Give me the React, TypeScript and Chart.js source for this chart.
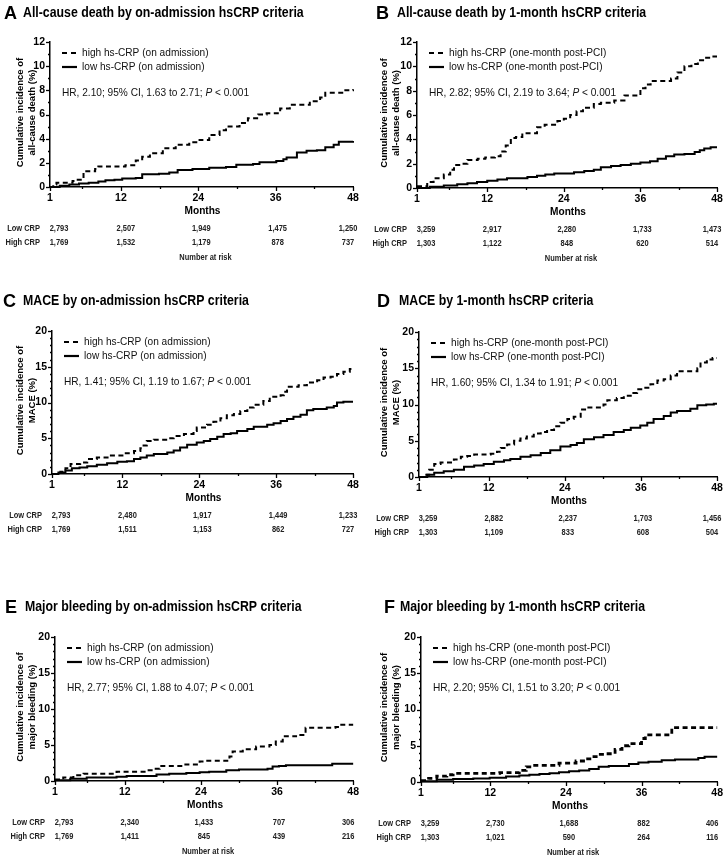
import React, { useEffect, useRef } from 'react';
import { Chart, registerables } from 'chart.js';
Chart.register(...registerables);

// ---- axis ticks ----
const MONTH_TICKS = [1, 12, 24, 36, 48];
const MINOR_MONTHS = [6, 18, 30, 42];

// ---- curves: [month, cumulative incidence %] ----
const A_HIGH = [[1,0],[1.5,0.2],[2,0.35],[4.5,0.5],[5.3,0.6],[6.2,1.3],[8,1.5],[8.5,1.7],[12.7,1.8],[14.3,2.2],[15.3,2.5],[16.5,2.8],[18.5,3.2],[20.5,3.5],[22.6,3.7],[24.2,3.9],[25.7,4.3],[27.3,4.7],[28.3,5.0],[30.4,5.3],[31.7,5.7],[33.3,6.0],[34.6,6.1],[36.7,6.5],[38.2,6.8],[41.3,7.1],[42.9,7.4],[43.7,7.8],[46.5,8.0],[48,8.1]];
const A_LOW = [[1,0],[2.5,0.1],[4,0.2],[5.5,0.3],[7,0.35],[8.5,0.45],[9.6,0.55],[11,0.6],[12.2,0.7],[14.3,0.75],[15.3,1.05],[17.9,1.1],[19.5,1.2],[20.8,1.4],[23.1,1.5],[25.7,1.6],[28.3,1.65],[29.9,1.85],[32.5,1.9],[33.5,2.05],[36.1,2.15],[37.2,2.3],[37.7,2.45],[39.3,2.85],[40.8,3.0],[42.4,3.05],[43.7,3.3],[45,3.5],[45.8,3.75],[48,3.8]];
const B_HIGH = [[1,0.15],[2.6,0.5],[3.6,0.8],[5.2,1.1],[6.2,1.5],[6.8,1.9],[8.3,2.0],[8.9,2.3],[10.5,2.4],[11.7,2.5],[13.2,2.6],[14.1,3.0],[14.9,3.5],[15.7,4.1],[16.5,4.2],[17.5,4.5],[19.8,5.0],[21,5.2],[23,5.5],[24,5.7],[25,6.0],[26,6.3],[27,6.6],[28.7,6.9],[29.8,7.0],[31.9,7.2],[33.5,7.6],[36,8.2],[36.8,8.5],[37.6,8.8],[40.8,9.0],[41.8,9.5],[42.9,10.0],[44,10.2],[45,10.5],[46,10.7],[47,10.8],[48,10.8]];
const B_LOW = [[1,0],[3,0.1],[5.2,0.2],[7.3,0.3],[8.9,0.4],[10.4,0.5],[12,0.6],[13.6,0.7],[15.1,0.8],[18.3,0.9],[19.8,1.0],[21.1,1.1],[22.5,1.2],[25.6,1.3],[27.2,1.4],[28.7,1.5],[29.8,1.7],[31.4,1.8],[32.9,1.9],[34.5,2.0],[36,2.1],[37.5,2.2],[38.7,2.4],[40,2.6],[41.3,2.75],[42.9,2.8],[44.5,2.95],[45.3,3.1],[46,3.25],[47,3.35],[48,3.35]];
const C_HIGH = [[1,0],[2.3,0.3],[3.1,0.8],[3.9,1.4],[5.4,1.6],[6.5,2.1],[8,2.3],[10,2.6],[12.2,2.9],[13.8,3.2],[14.8,3.6],[15.3,4.0],[15.8,4.6],[16.9,4.8],[19,5.0],[20,5.3],[21.6,5.6],[23.1,6.0],[23.6,6.5],[25.2,6.9],[26.2,7.3],[27.3,7.8],[28.3,8.2],[29.4,8.4],[30.4,8.8],[31.5,9.3],[32.5,9.7],[34,10.2],[35,10.8],[36.7,11.0],[37.2,11.5],[37.7,12.2],[39.5,12.4],[40.8,12.8],[42.4,13.1],[43.4,13.5],[44.5,13.6],[45.5,14.0],[46.5,14.3],[47.5,14.7],[48,14.7]];
const C_LOW = [[1,0],[2,0.2],[3.1,0.5],[4.1,0.8],[5.3,0.9],[6.5,1.1],[8,1.3],[9.6,1.5],[11.2,1.7],[12.7,1.8],[13.8,2.1],[14.8,2.3],[15.8,2.6],[16.9,2.8],[19,3.0],[20,3.3],[21,3.7],[22.1,4.1],[23.6,4.4],[24.7,4.6],[25.7,4.9],[26.8,5.2],[27.8,5.6],[28.9,5.7],[29.9,6.0],[31.5,6.3],[32.5,6.6],[34.6,6.9],[35.6,7.1],[36.7,7.4],[37.7,7.7],[38.7,8.0],[39.8,8.3],[40.8,8.9],[41.8,9.1],[43.9,9.3],[45,9.5],[45.5,10.0],[46.5,10.1],[48,10.1]];
const D_HIGH = [[1,0],[1.8,0.3],[2.6,1.0],[3.4,1.8],[4.4,2.0],[6.5,2.4],[7.6,2.8],[8.6,2.9],[9.7,3.1],[12.3,3.2],[13.3,3.5],[13.9,4.0],[14.9,4.5],[16,5.0],[17,5.3],[18,5.6],[19.1,6.0],[20.2,6.2],[21.2,6.5],[22.3,7.0],[23.3,7.5],[24.4,8.0],[25.4,8.3],[26.5,9.3],[27.5,9.6],[30.1,10.0],[30.7,10.6],[32.2,10.9],[33.3,11.2],[34.4,11.6],[35.4,12.1],[36.5,12.3],[37.5,12.8],[38.6,13.3],[39.6,13.5],[40.7,14.0],[41.7,14.6],[44.9,15.0],[45.4,15.8],[46.4,16.2],[47.3,16.4],[48,16.4]];
const D_LOW = [[1,0],[2.3,0.3],[3.4,0.6],[4.9,0.8],[6.5,1.0],[8.1,1.4],[9.7,1.6],[11.2,1.8],[12.8,2.1],[14.4,2.3],[15.4,2.5],[17,2.8],[18.6,3.0],[20.2,3.3],[21.7,3.7],[23.3,4.2],[24.9,4.4],[25.9,4.7],[27,5.2],[28.6,5.5],[30.1,5.8],[31.7,6.2],[33.3,6.5],[34.4,6.8],[35.9,7.1],[37,7.5],[38,8.0],[39.6,8.4],[40.7,8.9],[41.7,9.1],[43.8,9.4],[44.9,9.9],[46.3,10.0],[47.5,10.1],[48,10.1]];
const E_HIGH = [[1,0.2],[2.3,0.5],[3.9,0.8],[5.5,1.0],[10.7,1.3],[15.4,1.5],[16.4,1.7],[17.5,2.1],[21.2,2.3],[23.8,2.7],[24.8,2.8],[28.5,3.4],[29,4.1],[30.6,4.4],[32.7,4.8],[34.8,5.0],[35.8,5.5],[36.9,6.2],[39,6.4],[40.5,7.4],[45.2,7.5],[45.8,7.8],[48,7.8]];
const E_LOW = [[1,0.1],[3.4,0.3],[6,0.5],[10.7,0.6],[12.3,0.7],[17,0.9],[19,1.0],[21.7,1.1],[23.8,1.2],[25.3,1.3],[28,1.5],[30,1.6],[34.5,1.7],[35.3,2.0],[36.3,2.1],[37.4,2.2],[44.7,2.4],[48,2.4]];
const F_HIGH = [[1,0.2],[2.2,0.5],[3.5,0.8],[5.1,1.0],[6.1,1.2],[13.5,1.3],[16.6,1.6],[17.7,2.1],[18.7,2.3],[22.9,2.6],[25.6,2.9],[27.1,3.2],[28.2,3.5],[29.2,3.8],[30.2,3.9],[31.8,4.5],[32.9,5.0],[34,5.3],[36,6.0],[36.6,6.5],[40.8,7.5],[48,7.5]];
const F_LOW = [[1,0.1],[3.5,0.3],[6.1,0.4],[9.3,0.5],[11.9,0.6],[14.5,0.75],[16.6,0.9],[18.2,1.0],[19.8,1.1],[21.4,1.2],[22.9,1.35],[24.5,1.5],[26.1,1.6],[27.7,1.8],[29.2,2.1],[30.8,2.2],[34,2.5],[35.5,2.7],[37.1,2.8],[39.2,3.0],[41.3,3.1],[45,3.3],[46,3.5],[48,3.5]];

// ---- number at risk ----
const A_RISK_LOW = [2793, 2507, 1949, 1475, 1250];
const A_RISK_HIGH = [1769, 1532, 1179, 878, 737];
const B_RISK_LOW = [3259, 2917, 2280, 1733, 1473];
const B_RISK_HIGH = [1303, 1122, 848, 620, 514];
const C_RISK_LOW = [2793, 2480, 1917, 1449, 1233];
const C_RISK_HIGH = [1769, 1511, 1153, 862, 727];
const D_RISK_LOW = [3259, 2882, 2237, 1703, 1456];
const D_RISK_HIGH = [1303, 1109, 833, 608, 504];
const E_RISK_LOW = [2793, 2340, 1433, 707, 306];
const E_RISK_HIGH = [1769, 1411, 845, 439, 216];
const F_RISK_LOW = [3259, 2730, 1688, 882, 406];
const F_RISK_HIGH = [1303, 1021, 590, 264, 116];

// ---- text ----
const TITLES = [
  'All-cause death by on-admission hsCRP criteria',
  'All-cause death by 1-month hsCRP criteria',
  'MACE by on-admission hsCRP criteria',
  'MACE by 1-month hsCRP criteria',
  'Major bleeding by on-admission hsCRP criteria',
  'Major bleeding by 1-month hsCRP criteria',
];
const HR_TEXT = [
  ['HR, 2.10; 95% CI, 1.63 to 2.71; ', ' < 0.001'],
  ['HR, 2.82; 95% CI, 2.19 to 3.64; ', ' < 0.001'],
  ['HR, 1.41; 95% CI, 1.19 to 1.67; ', ' < 0.001'],
  ['HR, 1.60; 95% CI, 1.34 to 1.91; ', ' < 0.001'],
  ['HR, 2.77; 95% CI, 1.88 to 4.07; ', ' < 0.001'],
  ['HR, 2.20; 95% CI, 1.51 to 3.20; ', ' < 0.001'],
];
const LEG_ADM = ['high hs-CRP (on admission)', 'low hs-CRP (on admission)'];
const LEG_1M = ['high hs-CRP (one-month post-PCI)', 'low hs-CRP (one-month post-PCI)'];

const FONT = 'Arial, "Liberation Sans", Helvetica, sans-serif';
const SX = 0.88;

type Panel = {
  letter: string; title: string; x: number; y: number; w: number; h: number;
  area: { l: number; r: number; t: number; b: number };
  letterX: number; titleX: number; titleY: number;
  yMax: number; yStep: number; yTitle: string[];
  legend: string[]; hr: string[];
  high: number[][]; low: number[][];
  riskLow: number[]; riskHigh: number[]; showNAR: boolean; dashW: number;
};

const PANELS: Panel[] = [
  { letter: 'A', title: TITLES[0], x: 0, y: 0, w: 364, h: 265, area: { l: 50, r: 353, t: 42, b: 187 }, letterX: 4, titleX: 23, titleY: 17,
    yMax: 12, yStep: 2, yTitle: ['Cumulative incidence of', 'all-cause death (%)'], legend: LEG_ADM, hr: HR_TEXT[0],
    high: A_HIGH, low: A_LOW, riskLow: A_RISK_LOW, riskHigh: A_RISK_HIGH, showNAR: true, dashW: 2 },
  { letter: 'B', title: TITLES[1], x: 364, y: 0, w: 364, h: 265, area: { l: 53, r: 353, t: 42, b: 188 }, letterX: 12, titleX: 33, titleY: 17,
    yMax: 12, yStep: 2, yTitle: ['Cumulative incidence of', 'all-cause death (%)'], legend: LEG_1M, hr: HR_TEXT[1],
    high: B_HIGH, low: B_LOW, riskLow: B_RISK_LOW, riskHigh: B_RISK_HIGH, showNAR: true, dashW: 2 },
  { letter: 'C', title: TITLES[2], x: 0, y: 285, w: 364, h: 290, area: { l: 52, r: 353, t: 46, b: 189 }, letterX: 3, titleX: 23, titleY: 20,
    yMax: 20, yStep: 5, yTitle: ['Cumulative incidence of', 'MACE (%)'], legend: LEG_ADM, hr: HR_TEXT[2],
    high: C_HIGH, low: C_LOW, riskLow: C_RISK_LOW, riskHigh: C_RISK_HIGH, showNAR: false, dashW: 2 },
  { letter: 'D', title: TITLES[3], x: 364, y: 285, w: 364, h: 290, area: { l: 55, r: 353, t: 47, b: 192 }, letterX: 13, titleX: 35, titleY: 20,
    yMax: 20, yStep: 5, yTitle: ['Cumulative incidence of', 'MACE (%)'], legend: LEG_1M, hr: HR_TEXT[3],
    high: D_HIGH, low: D_LOW, riskLow: D_RISK_LOW, riskHigh: D_RISK_HIGH, showNAR: false, dashW: 2 },
  { letter: 'E', title: TITLES[4], x: 0, y: 575, w: 364, h: 280, area: { l: 55, r: 354, t: 62, b: 206 }, letterX: 5, titleX: 25, titleY: 36,
    yMax: 20, yStep: 5, yTitle: ['Cumulative incidence of', 'major bleeding (%)'], legend: LEG_ADM, hr: HR_TEXT[4],
    high: E_HIGH, low: E_LOW, riskLow: E_RISK_LOW, riskHigh: E_RISK_HIGH, showNAR: true, dashW: 2 },
  { letter: 'F', title: TITLES[5], x: 364, y: 575, w: 364, h: 280, area: { l: 57, r: 356, t: 62, b: 207 }, letterX: 20, titleX: 36, titleY: 36,
    yMax: 20, yStep: 5, yTitle: ['Cumulative incidence of', 'major bleeding (%)'], legend: LEG_1M, hr: HR_TEXT[5],
    high: F_HIGH, low: F_LOW, riskLow: F_RISK_LOW, riskHigh: F_RISK_HIGH, showNAR: true, dashW: 2.8 },
];

const RISK_OFFS = [9, 5, 3, 2, -5];

function txt(ctx: CanvasRenderingContext2D, s: string, x: number, y: number, font: string,
  align: CanvasTextAlign = 'left', base: CanvasTextBaseline = 'alphabetic', color = '#000', sx = SX) {
  ctx.save();
  ctx.font = font; ctx.fillStyle = color; ctx.textAlign = align; ctx.textBaseline = base;
  ctx.translate(x, y); ctx.scale(sx, 1); ctx.fillText(s, 0, 0);
  ctx.restore();
}
function tw(ctx: CanvasRenderingContext2D, s: string, font: string) {
  ctx.save(); ctx.font = font; const w = ctx.measureText(s).width; ctx.restore();
  return w * SX;
}

function decorPlugin(p: Panel) {
  return {
    id: 'kmDecor' + p.letter,
    afterDraw(chart: any) {
      const ctx: CanvasRenderingContext2D = chart.ctx;
      const a = chart.chartArea;
      const xs = chart.scales.x, ys = chart.scales.y;
      // title
      txt(ctx, p.letter, p.letterX, p.titleY + 2, `bold 19px ${FONT}`, 'left', 'alphabetic', '#000', 0.95);
      txt(ctx, p.title, p.titleX, p.titleY, `bold 14px ${FONT}`);
      // tick marks
      ctx.save();
      ctx.strokeStyle = '#000'; ctx.lineWidth = 1.3;
      for (let v = 0; v <= p.yMax; v++) {
        const py = Math.round(ys.getPixelForValue(v)) + 0.5;
        const len = v % p.yStep === 0 ? 4 : 2;
        ctx.beginPath(); ctx.moveTo(a.left - len, py); ctx.lineTo(a.left, py); ctx.stroke();
      }
      MONTH_TICKS.forEach((m) => {
        const px = Math.round(xs.getPixelForValue(m)) + 0.5;
        ctx.beginPath(); ctx.moveTo(px, a.bottom); ctx.lineTo(px, a.bottom + 4); ctx.stroke();
      });
      MINOR_MONTHS.forEach((m) => {
        const px = Math.round(xs.getPixelForValue(m)) + 0.5;
        ctx.beginPath(); ctx.moveTo(px, a.bottom); ctx.lineTo(px, a.bottom + 2); ctx.stroke();
      });
      ctx.restore();
      // y title (rotated)
      const cy = (a.top + a.bottom) / 2 - 2;
      ctx.save();
      ctx.translate(20, cy); ctx.rotate(-Math.PI / 2);
      ctx.font = `bold 9.5px ${FONT}`; ctx.fillStyle = '#000'; ctx.textAlign = 'center'; ctx.textBaseline = 'middle';
      ctx.fillText(p.yTitle[0], 0, 0);
      ctx.fillText(p.yTitle[1], 0, 12);
      ctx.restore();
      // legend
      const lx = a.left + 12;
      ctx.save();
      ctx.strokeStyle = '#000'; ctx.lineWidth = 2.2;
      ctx.setLineDash([5, 4]);
      ctx.beginPath(); ctx.moveTo(lx, a.top + 11); ctx.lineTo(lx + 15, a.top + 11); ctx.stroke();
      ctx.setLineDash([]);
      ctx.beginPath(); ctx.moveTo(lx, a.top + 25); ctx.lineTo(lx + 15, a.top + 25); ctx.stroke();
      ctx.restore();
      const legFont = `11.5px ${FONT}`;
      txt(ctx, p.legend[0], lx + 20, a.top + 11, legFont, 'left', 'middle', '#111');
      txt(ctx, p.legend[1], lx + 20, a.top + 25, legFont, 'left', 'middle', '#111');
      // HR text
      const hrFont = `11.5px ${FONT}`;
      const hy = a.top + 51;
      let hx = a.left + 12;
      txt(ctx, p.hr[0], hx, hy, hrFont, 'left', 'middle', '#111');
      hx += tw(ctx, p.hr[0], hrFont);
      txt(ctx, 'P', hx, hy, `italic ${hrFont}`, 'left', 'middle', '#111');
      hx += tw(ctx, 'P', `italic ${hrFont}`);
      txt(ctx, p.hr[1], hx, hy, hrFont, 'left', 'middle', '#111');
      // Months
      const mid = (a.left + a.right) / 2;
      txt(ctx, 'Months', mid + 1, a.bottom + 24, `bold 11.5px ${FONT}`, 'center', 'middle');
      // risk table
      const rf = `bold 8.5px ${FONT}`;
      txt(ctx, 'Low CRP', a.left - 10, a.bottom + 42, rf, 'right', 'middle', '#222');
      txt(ctx, 'High CRP', a.left - 10, a.bottom + 56, rf, 'right', 'middle', '#222');
      MONTH_TICKS.forEach((m, i) => {
        const px = xs.getPixelForValue(m) + RISK_OFFS[i];
        txt(ctx, p.riskLow[i].toLocaleString('en-US'), px, a.bottom + 42, rf, 'center', 'middle', '#222');
        txt(ctx, p.riskHigh[i].toLocaleString('en-US'), px, a.bottom + 56, rf, 'center', 'middle', '#222');
      });
      if (p.showNAR) txt(ctx, 'Number at risk', mid + 4, a.bottom + 71, rf, 'center', 'middle', '#222');
    },
  };
}

function makeConfig(p: Panel): any {
  const toPts = (arr: number[][]) => arr.map(([x, y]) => ({ x, y }));
  const yTicks: number[] = [];
  for (let v = 0; v <= p.yMax; v += p.yStep) yTicks.push(v);
  return {
    type: 'line',
    data: {
      datasets: [
        { label: p.legend[0], data: toPts(p.high), borderColor: '#000', borderWidth: p.dashW, borderDash: [5, 3.5],
          stepped: 'before', pointRadius: 0, fill: false, clip: 6 },
        { label: p.legend[1], data: toPts(p.low), borderColor: '#000', borderWidth: 2,
          stepped: 'before', pointRadius: 0, fill: false, clip: 6 },
      ],
    },
    options: {
      responsive: false,
      animation: false,
      events: [],
      layout: { padding: { left: 0, top: p.area.t, right: p.w - p.area.r, bottom: p.h - p.area.b - 16 } },
      plugins: { legend: { display: false }, tooltip: { enabled: false }, title: { display: false } },
      scales: {
        x: {
          type: 'linear', min: 1, max: 48,
          afterBuildTicks: (s: any) => { s.ticks = MONTH_TICKS.map((v) => ({ value: v })); },
          afterFit: (s: any) => { s.height = 16; },
          grid: { display: false, drawTicks: false, tickLength: 0 },
          border: { display: true, color: '#000', width: 1.5 },
          ticks: { color: '#000', font: { family: FONT, size: 10.5, weight: 'bold' }, padding: 5, maxRotation: 0, autoSkip: false },
        },
        y: {
          type: 'linear', min: 0, max: p.yMax,
          afterBuildTicks: (s: any) => { s.ticks = yTicks.map((v) => ({ value: v })); },
          afterFit: (s: any) => { s.width = p.area.l; },
          grid: { display: false, drawTicks: false, tickLength: 0 },
          border: { display: true, color: '#000', width: 1.5 },
          ticks: { color: '#000', font: { family: FONT, size: 10.5, weight: 'bold' }, padding: 5 },
        },
      },
    },
    plugins: [decorPlugin(p)],
  };
}

function KMPanel({ p }: { p: Panel }) {
  const ref = useRef<HTMLCanvasElement>(null);
  useEffect(() => {
    const chart = new Chart(ref.current as HTMLCanvasElement, makeConfig(p));
    return () => chart.destroy();
  }, [p]);
  return (
    <canvas ref={ref} width={p.w} height={p.h}
      style={{ position: 'absolute', left: p.x, top: p.y, width: p.w, height: p.h }} />
  );
}

export default function App() {
  return (
    <div style={{ position: 'absolute', left: 0, top: 0, width: 728, height: 855, background: '#fff', overflow: 'hidden' }}>
      {PANELS.map((p) => <KMPanel key={p.letter} p={p} />)}
    </div>
  );
}
